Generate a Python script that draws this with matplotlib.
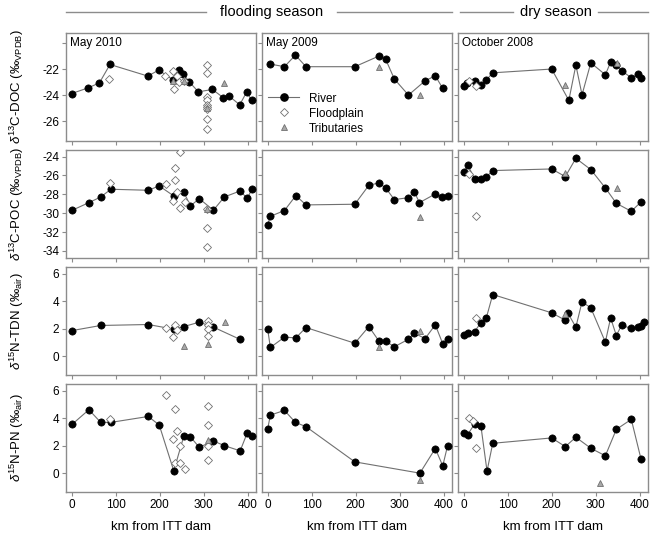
import matplotlib
matplotlib.use("Agg")
import matplotlib.pyplot as plt
from matplotlib.lines import Line2D

plt.rcParams['font.family'] = ['Liberation Sans', 'DejaVu Sans']
plt.rcParams['axes.unicode_minus'] = False
plt.rcParams['mathtext.fontset'] = 'custom'
plt.rcParams['mathtext.rm'] = 'Liberation Sans'
plt.rcParams['mathtext.it'] = 'Liberation Sans:italic'

# ---------------- data ----------------
campaigns = ["May 2010", "May 2009", "October 2008"]
seasons = ["flooding season", "dry season"]
ylabels = [r"$\delta^{13}$C-DOC (‰$_{\mathrm{VPDB}}$)",
           r"$\delta^{13}$C-POC (‰$_{\mathrm{VPDB}}$)",
           r"$\delta^{15}$N-TDN (‰$_{\mathrm{air}}$)",
           r"$\delta^{15}$N-PN (‰$_{\mathrm{air}}$)"]
xticks = [0, 100, 200, 300, 400]

# Row 1: d13C-DOC
doc10_r_km = [0, 38, 63, 87, 173, 198, 231, 245, 254, 267, 288, 320, 345, 358, 382, 398, 409]
doc10_r_v = [-23.85, -23.41, -23.03, -21.62, -22.51, -22.05, -22.82, -22.05, -22.36, -22.95, -23.72, -23.54, -24.18, -24.05, -24.72, -23.72, -24.38]
doc10_f_km = [85, 212, 231, 239, 245, 233, 255, 307, 307, 307, 307, 307, 307, 307, 307, 307]
doc10_f_v = [-22.7, -22.51, -22.13, -22.51, -22.95, -23.51, -22.9, -21.67, -22.31, -24.10, -24.36, -24.74, -24.92, -25.07, -25.79, -26.61]
doc10_t_km = [230, 255, 307, 347]
doc10_t_v = [-22.87, -22.92, -25.0, -23.03]

doc09_r_km = [6, 38, 63, 87, 198, 253, 268, 288, 320, 358, 381, 398]
doc09_r_v = [-21.59, -21.79, -20.90, -21.79, -21.79, -20.97, -21.21, -22.74, -23.97, -22.87, -22.49, -23.46]
doc09_f_km = []
doc09_f_v = []
doc09_t_km = [254, 347]
doc09_t_v = [-21.79, -23.95]

doc08_r_km = [1, 8, 25, 39, 51, 66, 200, 239, 255, 269, 289, 322, 334, 347, 359, 381, 397, 403]
doc08_r_v = [-23.26, -23.08, -22.87, -23.23, -22.82, -22.26, -21.97, -24.38, -21.67, -23.95, -21.49, -22.41, -21.44, -21.64, -22.10, -22.64, -22.36, -22.62]
doc08_f_km = [13, 28]
doc08_f_v = [-22.87, -23.26]
doc08_t_km = [231, 349]
doc08_t_v = [-23.21, -21.54]

# Row 2: d13C-POC
poc10_r_km = [1, 39, 66, 89, 174, 199, 232, 255, 270, 290, 322, 347, 383, 399, 410]
poc10_r_v = [-29.69, -28.88, -28.28, -27.46, -27.57, -27.11, -28.17, -27.78, -29.23, -28.45, -29.69, -28.28, -27.64, -28.42, -27.46]
poc10_f_km = [86, 214, 246, 235, 235, 239, 231, 246, 258, 307, 307, 307]
poc10_f_v = [-26.76, -26.93, -23.54, -25.24, -26.44, -27.71, -28.70, -29.41, -28.77, -31.60, -33.61, -29.58]
poc10_t_km = [307]
poc10_t_v = [-29.58]

poc09_r_km = [0, 6, 38, 64, 87, 198, 230, 253, 268, 288, 320, 333, 345, 381, 396, 409]
poc09_r_v = [-31.21, -30.33, -29.72, -28.13, -29.12, -29.05, -27.04, -26.79, -27.32, -28.56, -28.35, -27.71, -28.88, -27.96, -28.28, -28.20]
poc09_f_km = []
poc09_f_v = []
poc09_t_km = [347]
poc09_t_v = [-30.43]

poc08_r_km = [1, 9, 25, 39, 51, 66, 200, 231, 255, 289, 322, 347, 381, 403]
poc08_r_v = [-25.63, -24.88, -26.37, -26.37, -26.16, -25.48, -25.31, -26.12, -24.18, -25.38, -27.32, -28.95, -29.80, -28.81]
poc08_f_km = [13, 28]
poc08_f_v = [-25.84, -30.25]
poc08_t_km = [231, 348]
poc08_t_v = [-25.70, -27.29]

# Row 3: d15N-TDN
tdn10_r_km = [1, 66, 174, 232, 255, 290, 322, 382]
tdn10_r_v = [1.88, 2.25, 2.32, 1.98, 2.17, 2.49, 2.13, 1.25]
tdn10_f_km = [214, 235, 240, 231, 309, 309, 309, 309]
tdn10_f_v = [2.08, 2.32, 1.95, 1.40, 2.56, 2.25, 1.96, 1.45]
tdn10_t_km = [255, 309, 348]
tdn10_t_v = [0.75, 0.92, 2.51]

tdn09_r_km = [0, 6, 38, 64, 87, 198, 230, 253, 268, 288, 320, 333, 358, 381, 398, 409]
tdn09_r_v = [1.96, 0.65, 1.40, 1.35, 2.10, 0.96, 2.17, 1.11, 1.11, 0.70, 1.25, 1.69, 1.30, 2.30, 0.92, 1.25]
tdn09_f_km = []
tdn09_f_v = []
tdn09_t_km = [254, 347]
tdn09_t_v = [0.70, 1.88]

tdn08_r_km = [1, 9, 25, 39, 51, 66, 200, 231, 237, 255, 269, 289, 322, 334, 347, 359, 381, 397, 403, 409]
tdn08_r_v = [1.54, 1.71, 1.81, 2.46, 2.76, 4.50, 3.17, 2.63, 3.14, 2.13, 3.97, 3.53, 1.04, 2.80, 1.52, 2.27, 2.03, 2.17, 2.20, 2.49]
tdn08_f_km = [28]
tdn08_f_v = [2.80]
tdn08_t_km = [231]
tdn08_t_v = [3.10]

# Row 4: d15N-PN
pn10_r_km = [1, 39, 66, 89, 174, 199, 232, 255, 270, 290, 322, 347, 383, 399, 410]
pn10_r_v = [3.57, 4.63, 3.71, 3.71, 4.14, 3.52, 0.19, 2.72, 2.65, 1.90, 2.36, 2.02, 1.64, 2.94, 2.75]
pn10_f_km = [87, 214, 235, 239, 231, 246, 235, 246, 258, 309, 309, 309, 309]
pn10_f_v = [3.98, 5.73, 4.70, 3.11, 2.48, 2.00, 0.77, 0.77, 0.31, 4.87, 3.54, 2.02, 0.99]
pn10_t_km = [309]
pn10_t_v = [2.41]

pn09_r_km = [0, 6, 38, 63, 87, 198, 346, 381, 398, 409]
pn09_r_v = [3.25, 4.24, 4.58, 3.71, 3.40, 0.84, 0.02, 1.81, 0.55, 2.02]
pn09_f_km = []
pn09_f_v = []
pn09_t_km = [347]
pn09_t_v = [-0.46]

pn08_r_km = [1, 9, 25, 39, 53, 66, 200, 231, 255, 289, 322, 347, 381, 403]
pn08_r_v = [2.92, 2.82, 3.61, 3.47, 0.17, 2.19, 2.58, 1.95, 2.63, 1.83, 1.28, 3.20, 3.93, 1.06]
pn08_f_km = [11, 20, 28]
pn08_f_v = [4.05, 3.81, 1.88]
pn08_t_km = [309]
pn08_t_v = [-0.70]

panels = [
    [(doc10_r_km, doc10_r_v, doc10_f_km, doc10_f_v, doc10_t_km, doc10_t_v),
     (doc09_r_km, doc09_r_v, doc09_f_km, doc09_f_v, doc09_t_km, doc09_t_v),
     (doc08_r_km, doc08_r_v, doc08_f_km, doc08_f_v, doc08_t_km, doc08_t_v)],
    [(poc10_r_km, poc10_r_v, poc10_f_km, poc10_f_v, poc10_t_km, poc10_t_v),
     (poc09_r_km, poc09_r_v, poc09_f_km, poc09_f_v, poc09_t_km, poc09_t_v),
     (poc08_r_km, poc08_r_v, poc08_f_km, poc08_f_v, poc08_t_km, poc08_t_v)],
    [(tdn10_r_km, tdn10_r_v, tdn10_f_km, tdn10_f_v, tdn10_t_km, tdn10_t_v),
     (tdn09_r_km, tdn09_r_v, tdn09_f_km, tdn09_f_v, tdn09_t_km, tdn09_t_v),
     (tdn08_r_km, tdn08_r_v, tdn08_f_km, tdn08_f_v, tdn08_t_km, tdn08_t_v)],
    [(pn10_r_km, pn10_r_v, pn10_f_km, pn10_f_v, pn10_t_km, pn10_t_v),
     (pn09_r_km, pn09_r_v, pn09_f_km, pn09_f_v, pn09_t_km, pn09_t_v),
     (pn08_r_km, pn08_r_v, pn08_f_km, pn08_f_v, pn08_t_km, pn08_t_v)],
]

yticks = [[-26, -24, -22, -20], [-34, -32, -30, -28, -26, -24], [0, 2, 4, 6], [0, 2, 4, 6]]
ytlabels = [["-26", "-24", "-22", ""], None, None, None]
ylims = [(-27.5, -19.2), (-34.75, -23.3), (-1.35, 6.5), (-1.35, 6.5)]

# ---------------- layout ----------------
W, H = 653, 541
fig = plt.figure(figsize=(W / 100, H / 100), dpi=100)
lefts = [66, 262, 458]
width = 190
tops = [33, 150, 267, 384]
height = 108
frame_col = "#8c8c8c"
line_col = "#707070"

axes = []
for r in range(4):
    row_axes = []
    for c in range(3):
        ax = fig.add_axes([lefts[c] / W, 1 - (tops[r] + height) / H, width / W, height / H])
        rk, rv, fk, fv, tk, tv = panels[r][c]
        ax.plot(rk, rv, '-', color=line_col, lw=0.8, zorder=2)
        ax.plot(rk, rv, 'o', ms=5.2, mfc='black', mec='black', mew=0.5, ls='none', zorder=3)
        if fk:
            ax.plot(fk, fv, 'D', ms=4.2, mfc='white', mec='#707070', mew=0.6, ls='none', zorder=4)
        if tk:
            ax.plot(tk, tv, '^', ms=5, mfc='#a8a8a8', mec='#707070', mew=0.6, ls='none', zorder=5)
        ax.set_xlim(-13, 419)
        ax.set_ylim(*ylims[r])
        ax.set_xticks(xticks)
        ax.set_yticks(yticks[r])
        for s in ax.spines.values():
            s.set_color(frame_col)
            s.set_linewidth(1.0)
        ax.tick_params(direction='out', length=3, width=0.8, color=frame_col,
                       labelsize=8.5, pad=2)
        if c == 0:
            if ytlabels[r] is not None:
                ax.set_yticklabels(ytlabels[r])
            ax.set_ylabel(ylabels[r], fontsize=9.5, labelpad=3)
        else:
            ax.set_yticklabels([])
        if r == 3:
            ax.set_xlabel("km from ITT dam", fontsize=9.5, labelpad=7)
        else:
            ax.set_xticklabels([])
        if r == 0:
            ax.text(0.02, 0.96, campaigns[c], transform=ax.transAxes, fontsize=8.5,
                    va='top', ha='left')
        row_axes.append(ax)
    axes.append(row_axes)

for ax in [a[0] for a in axes]:
    ax.yaxis.set_label_coords(-0.21, 0.5)

# legend
handles = [Line2D([], [], color=line_col, lw=0.8, marker='o', ms=5.2, mfc='black', mec='black'),
           Line2D([], [], ls='none', marker='D', ms=4.2, mfc='white', mec='#707070', mew=0.6),
           Line2D([], [], ls='none', marker='^', ms=5, mfc='#a8a8a8', mec='#707070', mew=0.6)]
axes[0][1].legend(handles, ["River", "Floodplain", "Tributaries"], loc='lower left',
                  frameon=False, fontsize=8.5, handlelength=2.6, handletextpad=0.8,
                  labelspacing=0.25, borderaxespad=0.15, bbox_to_anchor=(0.0, 0.0))

# season headers
def header(x0, x1, text, tx0, tx1):
    y = 1 - 12 / H
    fig.add_artist(Line2D([x0 / W, tx0 / W], [y, y], color=frame_col, lw=1.0))
    fig.add_artist(Line2D([tx1 / W, x1 / W], [y, y], color=frame_col, lw=1.0))
    fig.text(((tx0 + tx1) / 2) / W, y, text, ha='center', va='center', fontsize=10.5)

header(66, 452, seasons[0], 206, 337)
header(460, 648, seasons[1], 513, 598)

fig.savefig("out.png", dpi=100)
